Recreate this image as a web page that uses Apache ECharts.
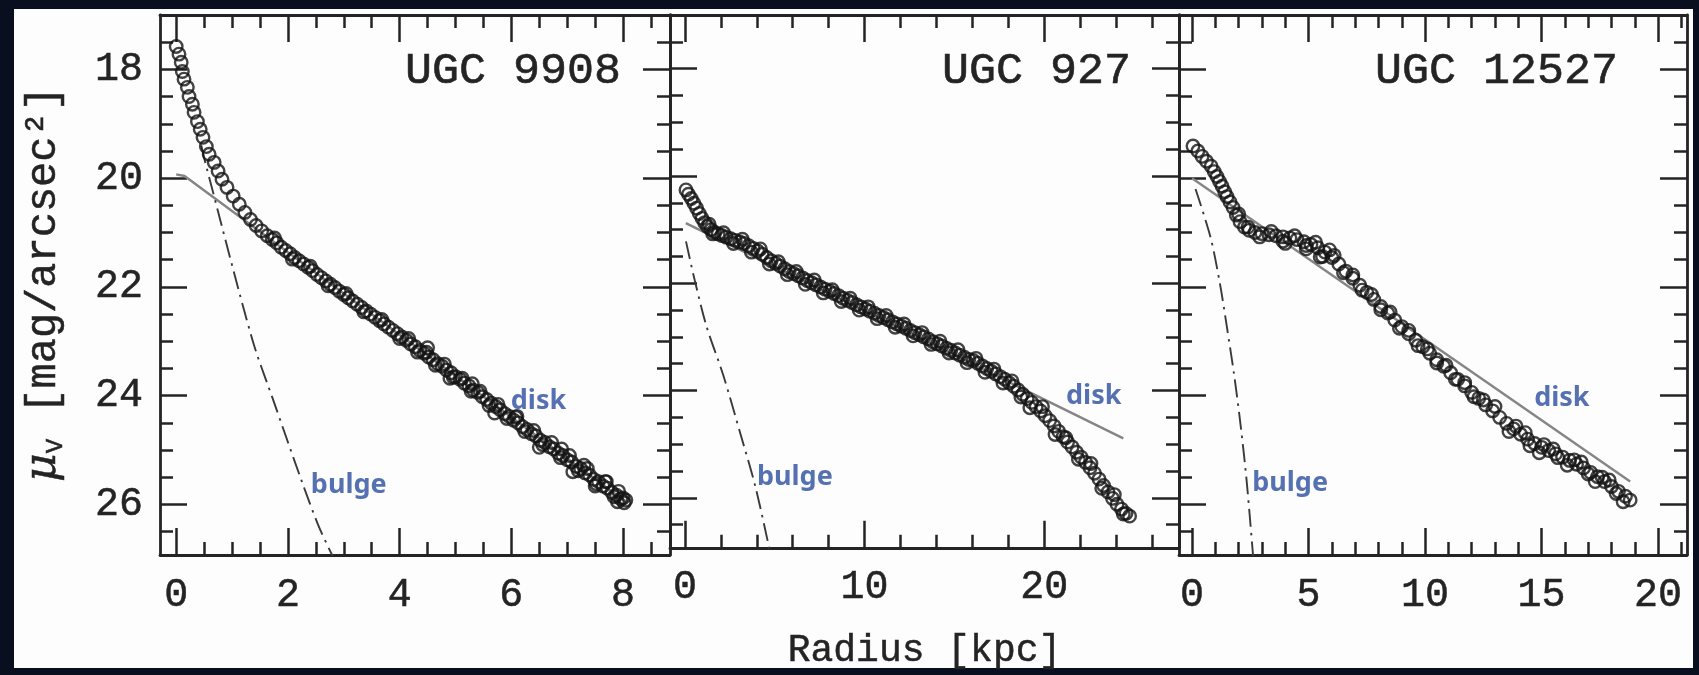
<!DOCTYPE html>
<html><head><meta charset="utf-8">
<script src="https://cdn.jsdelivr.net/npm/echarts@6/dist/echarts.min.js"></script>
<style>html,body{margin:0;padding:0;background:#0a0f1f;}#c{width:1699px;height:675px;}</style>
</head><body><div id="c"></div>
<script>
// ---------- data ----------
const panelNames = ['UGC 9908', 'UGC 927', 'UGC 12527'];
const yTickLabels = [18, 20, 22, 24, 26];
const yMinorTicks = [17.5, 18, 18.5, 19, 19.5, 20, 20.5, 21, 21.5, 22, 22.5, 23, 23.5, 24, 24.5, 25, 25.5, 26, 26.5];
const yRange = [17, 26.93];

const p1XTickLabels = [0, 2, 4, 6, 8];
const p1XMinorTicks = [0, 0.5, 1, 1.5, 2, 2.5, 3, 3.5, 4, 4.5, 5, 5.5, 6, 6.5, 7, 7.5, 8, 8.5];
const p1XRange = [-0.29, 8.84];
const p2XTickLabels = [0, 10, 20];
const p2XMinorTicks = [0, 2, 4, 6, 8, 10, 12, 14, 16, 18, 20, 22, 24, 26];
const p2XRange = [-0.83, 27.5];
const p3XTickLabels = [0, 5, 10, 15, 20];
const p3XMinorTicks = [0, 1, 2, 3, 4, 5, 6, 7, 8, 9, 10, 11, 12, 13, 14, 15, 16, 17, 18, 19, 20, 21];
const p3XRange = [-0.56, 21.24];

// UGC 9908 measured profile (radius kpc, mu_V)
const p1Profile = [
[0.00,17.58],[0.05,17.72],[0.09,17.87],[0.11,18.04],[0.14,18.18],[0.20,18.33],[0.23,18.50],[0.29,18.64],[0.32,18.79],[0.38,18.96],[0.43,19.10],[0.48,19.25],[0.54,19.42],[0.59,19.56],[0.68,19.71],[0.75,19.87],[0.82,20.02],[0.91,20.17],[1.02,20.33],[1.13,20.48],[1.23,20.63],[1.33,20.76],[1.43,20.87],[1.53,20.97],[1.63,21.06],
[1.72,21.13],[1.80,21.19],[1.88,21.27],[1.96,21.33],[2.04,21.39],[2.12,21.46],[2.20,21.52],[2.28,21.58],[2.36,21.64],[2.44,21.70],[2.52,21.77],[2.60,21.83],[2.68,21.89],[2.76,21.95],[2.84,22.01],[2.92,22.08],[3.00,22.14],[3.08,22.20],[3.16,22.26],[3.24,22.32],[3.32,22.38],[3.40,22.44],[3.48,22.50],[3.56,22.56],[3.64,22.62],[3.72,22.68],[3.80,22.74],[3.88,22.80],[3.96,22.86],[4.04,22.92],[4.12,22.98],[4.20,23.05],[4.28,23.10],[4.36,23.17],[4.44,23.22],[4.52,23.29],[4.60,23.34],[4.68,23.41],[4.76,23.46],[4.84,23.53],[4.92,23.58],[5.00,23.65],[5.08,23.70],[5.16,23.77],[5.24,23.82],[5.32,23.90],[5.40,23.94],[5.48,24.02],[5.56,24.07],[5.64,24.14],[5.72,24.20],[5.80,24.26],[5.88,24.33],[5.96,24.38],[6.04,24.45],[6.12,24.50],[6.20,24.57],[6.28,24.62],[6.36,24.70],[6.44,24.74],[6.52,24.82],[6.60,24.86],[6.68,24.94],[6.76,24.98],[6.84,25.06],[6.92,25.10],[7.00,25.18],[7.08,25.22],[7.16,25.30],[7.24,25.34],[7.32,25.42],[7.40,25.46],[7.48,25.54],[7.56,25.58],[7.64,25.66],[7.72,25.70],[7.80,25.78],[7.88,25.83],[7.96,25.90],[8.02,25.97],
[4.50,23.12],[4.90,23.68],[5.30,23.78],[5.70,24.32],[6.10,24.38],[6.50,24.95],[6.90,24.98],[7.10,25.40],[7.30,25.28],[7.50,25.66],[7.70,25.58],[7.90,25.95],[8.00,25.88]
];
const p1ProfileScatter = [
[1.76,21.10],[2.08,21.49],[2.40,21.62],[2.72,21.98],[3.04,22.12],[3.36,22.46],[3.68,22.60],[4.00,22.95],[4.16,22.95],[4.32,23.20],[4.48,23.20],[4.64,23.44],[4.80,23.42],[4.96,23.66],[5.12,23.68],[5.28,23.92],[5.44,23.92],[5.60,24.18],[5.76,24.16],[5.92,24.42],[6.08,24.40],[6.24,24.66],[6.40,24.64],[6.56,24.90],[6.72,24.86],[6.88,25.14],[7.04,25.10],[7.20,25.38],[7.36,25.34],[7.52,25.62],[7.68,25.58],[7.84,25.86],[7.92,25.76],[8.05,25.92]
];
const p1Disk = [[0.00,19.93],[0.15,19.96],[8.05,25.95]];
const p1Bulge = [[0.45,19.40],[0.52,19.71],[1.36,22.96],[1.73,24.06],[2.25,25.58],[2.55,26.40],[2.80,26.95]];

// UGC 927
const p2Profile = [
[0.06,20.26],[0.20,20.34],[0.35,20.42],[0.50,20.51],[0.65,20.60],[0.80,20.70],[0.95,20.79],[1.10,20.87],[1.25,20.94],[1.45,21.00],[1.65,21.05],[1.85,21.08],[2.05,21.11],[2.30,21.14],[2.55,21.17],[2.80,21.20],[3.05,21.23],[3.30,21.26],[3.55,21.30],[3.80,21.35],[4.05,21.40],[4.30,21.46],[4.55,21.52],[4.80,21.58],[5.05,21.63],[5.30,21.68],[5.55,21.73],[5.80,21.78],[6.05,21.82],[6.30,21.86],[6.55,21.90],[6.80,21.95],[7.05,21.99],[7.30,22.03],[7.55,22.07],[7.80,22.11],[8.05,22.15],[8.30,22.19],[8.55,22.23],[8.80,22.28],[9.05,22.32],[9.30,22.36],[9.55,22.40],[9.80,22.44],[10.05,22.48],[10.30,22.52],[10.55,22.56],[10.80,22.60],[11.05,22.64],[11.30,22.68],[11.55,22.72],[11.80,22.76],[12.05,22.80],[12.30,22.84],[12.55,22.88],[12.80,22.92],[13.05,22.96],[13.30,23.00],[13.55,23.04],[13.80,23.09],[14.05,23.13],[14.30,23.17],[14.55,23.21],[14.80,23.25],[15.05,23.30],[15.30,23.34],[15.55,23.38],[15.80,23.42],[16.05,23.44],[16.30,23.49],[16.55,23.54],[16.80,23.59],[17.05,23.64],[17.30,23.69],[17.55,23.74],[17.80,23.79],[18.05,23.86],[18.30,23.92],[18.55,23.99],[18.80,24.07],[19.05,24.15],[19.30,24.22],[19.55,24.30],[19.80,24.38],[20.05,24.47],[20.30,24.56],[20.55,24.66],[20.80,24.76],[21.05,24.86],[21.30,24.96],[21.55,25.05],[21.80,25.15],[22.05,25.24],[22.30,25.34],[22.55,25.44],[22.80,25.54],[23.05,25.65],[23.30,25.77],[23.55,25.89],[23.80,26.01],[24.05,26.12],[24.30,26.21],[24.55,26.29],[24.75,26.34],
[19.20,24.32],[19.90,24.30],[20.60,24.82],[21.20,24.88],[21.90,25.28],[22.60,25.36],[23.20,25.82],[23.90,25.94],[24.40,26.30]
];
const p2ProfileScatter = [
[1.35,20.90],[1.55,21.08],[2.15,21.06],[2.70,21.26],[3.20,21.18],[3.70,21.42],[4.20,21.36],[4.70,21.64],[5.20,21.60],[5.70,21.84],[6.20,21.78],[6.70,22.02],[7.20,21.94],[7.70,22.18],[8.20,22.12],[8.70,22.34],[9.20,22.28],[9.70,22.50],[10.20,22.44],[10.70,22.66],[11.20,22.60],[11.70,22.82],[12.20,22.76],[12.70,22.98],[13.20,22.92],[13.70,23.14],[14.20,23.08],[14.70,23.30],[15.20,23.24],[15.70,23.48],[16.20,23.40],[16.70,23.66],[17.20,23.60],[17.70,23.86],[18.20,23.82],[18.70,24.12]
];
const p2Disk = [[0.05,20.88],[24.40,24.89]];
const p2Bulge = [[0.06,21.22],[0.55,21.95],[1.20,22.80],[2.14,23.72],[3.10,24.82],[3.93,25.80],[4.70,26.95]];

// UGC 12527
const p3Profile = [
[0.04,19.41],[0.25,19.50],[0.43,19.60],[0.62,19.69],[0.82,19.78],[0.95,19.88],[1.07,19.97],[1.18,20.06],[1.29,20.15],[1.40,20.25],[1.50,20.34],[1.63,20.44],[1.76,20.54],[1.90,20.68],[2.06,20.80],[2.25,20.90],[2.45,20.96],[2.70,21.00],[3.00,21.02],[3.30,21.04],[3.60,21.06],[3.90,21.08],[4.20,21.10],[4.50,21.13],[4.80,21.17],[5.10,21.22],[5.40,21.28],[5.70,21.36],[6.00,21.46],[6.30,21.58],[6.60,21.71],[6.90,21.84],[7.20,21.97],[7.50,22.10],[7.80,22.23],[8.10,22.36],[8.40,22.48],[8.70,22.61],[9.00,22.73],[9.30,22.86],[9.60,22.98],[9.90,23.10],[10.20,23.22],[10.50,23.34],[10.80,23.46],[11.10,23.58],[11.40,23.70],[11.70,23.82],[12.00,23.94],[12.30,24.05],[12.60,24.17],[12.90,24.28],[13.20,24.40],[13.50,24.51],[13.80,24.61],[14.10,24.71],[14.40,24.80],[14.70,24.88],[15.00,24.95],[15.30,25.01],[15.60,25.07],[15.90,25.13],[16.20,25.19],[16.50,25.26],[16.80,25.33],[17.10,25.41],[17.40,25.49],[17.70,25.58],[18.00,25.67],[18.30,25.76],[18.60,25.85],[18.80,25.92],
[4.00,21.20],[4.90,21.30],[5.50,21.45],[5.90,21.32],[13.00,24.20],[13.60,24.66],[14.30,24.68],[14.90,25.05],[15.50,24.98],[16.10,25.28],[16.70,25.22],[17.30,25.58],[17.90,25.55],[18.50,25.95]
];
const p3ProfileScatter = [
[2.00,20.66],[2.40,20.90],[2.90,21.08],[3.40,20.98],[3.90,21.16],[4.40,21.06],[4.90,21.24],[5.30,21.18],[5.60,21.44],[6.10,21.42],[6.50,21.74],[6.90,21.78],[7.30,22.06],[7.70,22.14],[8.10,22.42],[8.50,22.46],[8.90,22.76],[9.30,22.80],[9.70,23.08],[10.10,23.14],[10.50,23.40],[10.90,23.44],[11.30,23.70],[11.70,23.76],[12.10,24.02],[12.50,24.08],[13.90,24.56],[14.50,24.92],[15.10,24.90],[15.70,25.14],[16.40,25.18],[17.00,25.44],[17.60,25.50],[18.20,25.80]
];
const p3Disk = [[0.00,20.00],[18.80,25.58]];
const p3Bulge = [[0.15,20.20],[0.80,21.10],[1.20,21.95],[1.50,22.75],[1.80,23.60],[2.10,24.60],[2.35,25.60],[2.62,26.95]];

// annotation anchors (left-middle of text, data coords)
const p1DiskLabelAt = [5.99, 24.10], p1BulgeLabelAt = [2.41, 25.64];
const p2DiskLabelAt = [21.21, 24.10], p2BulgeLabelAt = [4.01, 25.62];
const p3DiskLabelAt = [14.68, 24.04], p3BulgeLabelAt = [2.58, 25.62];

// ---------- build ----------
const INK = '#242424';
const MONO = '"Liberation Mono", "DejaVu Sans Mono", monospace';
const panels = [
  {xr: p1XRange, xl: p1XTickLabels, xm: p1XMinorTicks, prof: p1Profile.concat(p1ProfileScatter), disk: p1Disk, bulge: p1Bulge, dl: p1DiskLabelAt, bl: p1BulgeLabelAt},
  {xr: p2XRange, xl: p2XTickLabels, xm: p2XMinorTicks, prof: p2Profile.concat(p2ProfileScatter), disk: p2Disk, bulge: p2Bulge, dl: p2DiskLabelAt, bl: p2BulgeLabelAt},
  {xr: p3XRange, xl: p3XTickLabels, xm: p3XMinorTicks, prof: p3Profile.concat(p3ProfileScatter), disk: p3Disk, bulge: p3Bulge, dl: p3DiskLabelAt, bl: p3BulgeLabelAt}
];
const gridBoxes = [{left:160,width:510},{left:670,width:509},{left:1179,width:508}];
const grid = [], xAxis = [], yAxis = [], series = [];
const MAJ = 27, MIN = 13;
function tickAxis(base, vals, len, showLine, labelCfg) {
  return Object.assign({}, base, {
    axisLine: {show: showLine, onZero: false, lineStyle: {color: INK, width: 2.8}},
    axisTick: {show: true, inside: true, length: len, customValues: vals, lineStyle: {color: INK, width: 2.5}},
    axisLabel: labelCfg || {show: false},
    splitLine: {show: false}
  });
}
const labStyle = {color: INK, fontFamily: MONO, fontSize: 40, textBorderColor: INK, textBorderWidth: 0.5, formatter: v => String(v)};
panels.forEach((p, i) => {
  grid.push({left: gridBoxes[i].left, width: gridBoxes[i].width, top: 15, height: 540, containLabel: false});
  const xb = {type: 'value', gridIndex: i, min: p.xr[0], max: p.xr[1]};
  const xLab = Object.assign({show: true, customValues: p.xl, margin: 20}, labStyle);
  const bottomMajor = tickAxis(Object.assign({}, xb, {position: 'bottom'}), p.xl, MAJ, true, xLab);
  if (i === 1) {
    Object.assign(bottomMajor, {name: 'Radius [kpc]', nameLocation: 'middle', nameGap: 84,
      nameTextStyle: {color: INK, fontFamily: MONO, fontSize: 38, textBorderColor: INK, textBorderWidth: 0.5}});
  }
  xAxis.push(bottomMajor);
  xAxis.push(tickAxis(Object.assign({}, xb, {position: 'bottom'}), p.xm, MIN, false));
  xAxis.push(tickAxis(Object.assign({}, xb, {position: 'top'}), p.xl, MAJ, true));
  xAxis.push(tickAxis(Object.assign({}, xb, {position: 'top'}), p.xm, MIN, false));
  const yb = {type: 'value', gridIndex: i, min: yRange[0], max: yRange[1], inverse: true};
  const yLab = i === 0 ? Object.assign({show: true, customValues: yTickLabels, margin: 17}, labStyle) : null;
  yAxis.push(tickAxis(Object.assign({}, yb, {position: 'left'}), yTickLabels, MAJ, true, yLab));
  yAxis.push(tickAxis(Object.assign({}, yb, {position: 'left'}), yMinorTicks, MIN, false));
  yAxis.push(tickAxis(Object.assign({}, yb, {position: 'right'}), yTickLabels, MAJ, true));
  yAxis.push(tickAxis(Object.assign({}, yb, {position: 'right'}), yMinorTicks, MIN, false));
  const xi = 4 * i, yi = 4 * i;
  series.push({type: 'line', xAxisIndex: xi, yAxisIndex: yi, data: p.disk, showSymbol: false, z: 2,
    lineStyle: {color: '#858585', width: 2.4}, silent: true});
  series.push({type: 'line', xAxisIndex: xi, yAxisIndex: yi, data: p.bulge, showSymbol: false, z: 2, smooth: 0.3,
    lineStyle: {color: '#3a3a3a', width: 1.9, type: [18, 6, 2.5, 6]}, silent: true});
  series.push({type: 'scatter', xAxisIndex: xi, yAxisIndex: yi, data: p.prof, symbol: 'circle', symbolSize: 12.5, z: 3,
    itemStyle: {color: 'rgba(0,0,0,0)', borderColor: '#141414', borderWidth: 2.4}, silent: true});
  series.push({type: 'scatter', xAxisIndex: xi, yAxisIndex: yi, symbolSize: 0, z: 5, silent: true,
    data: [{value: p.dl, name: 'disk'}, {value: p.bl, name: 'bulge'}],
    label: {show: true, position: [0, 0], align: 'left', verticalAlign: 'middle', formatter: '{b}',
      color: '#2b4e9e', fontFamily: '"Noto Sans", sans-serif', fontWeight: 'bold', fontSize: 27}});
});

const titleRight = [621, 1131, 1618];
const graphic = [
  {type: 'rect', z: -10, shape: {x: 14, y: 9, width: 1679, height: 659}, style: {fill: '#fdfdfd'}},
  {type: 'text', x: 44, y: 284, rotation: Math.PI / 2, style: {
    text: '{mu|μ}{sub|V} [mag/arcsec²]', align: 'center', verticalAlign: 'middle', fill: INK,
    font: '42px ' + MONO, stroke: INK, lineWidth: 0.5,
    rich: {mu: {fontFamily: '"DejaVu Serif", serif', fontStyle: 'italic', fontSize: 44, lineHeight: 48, fill: INK},
           sub: {fontFamily: MONO, fontSize: 24, verticalAlign: 'bottom', lineHeight: 48, fill: INK}}
  }}
];
panelNames.forEach((n, i) => {
  graphic.push({type: 'text', x: titleRight[i], y: 71, z: 10, style: {text: n, align: 'right', verticalAlign: 'middle',
    fill: INK, font: '45px ' + MONO, stroke: INK, lineWidth: 0.6}});
});

const chart = echarts.init(document.getElementById('c'), null, {renderer: 'canvas'});
chart.setOption({backgroundColor: '#0a0f1f', animation: false, grid, xAxis, yAxis, series, graphic});
</script></body></html>
